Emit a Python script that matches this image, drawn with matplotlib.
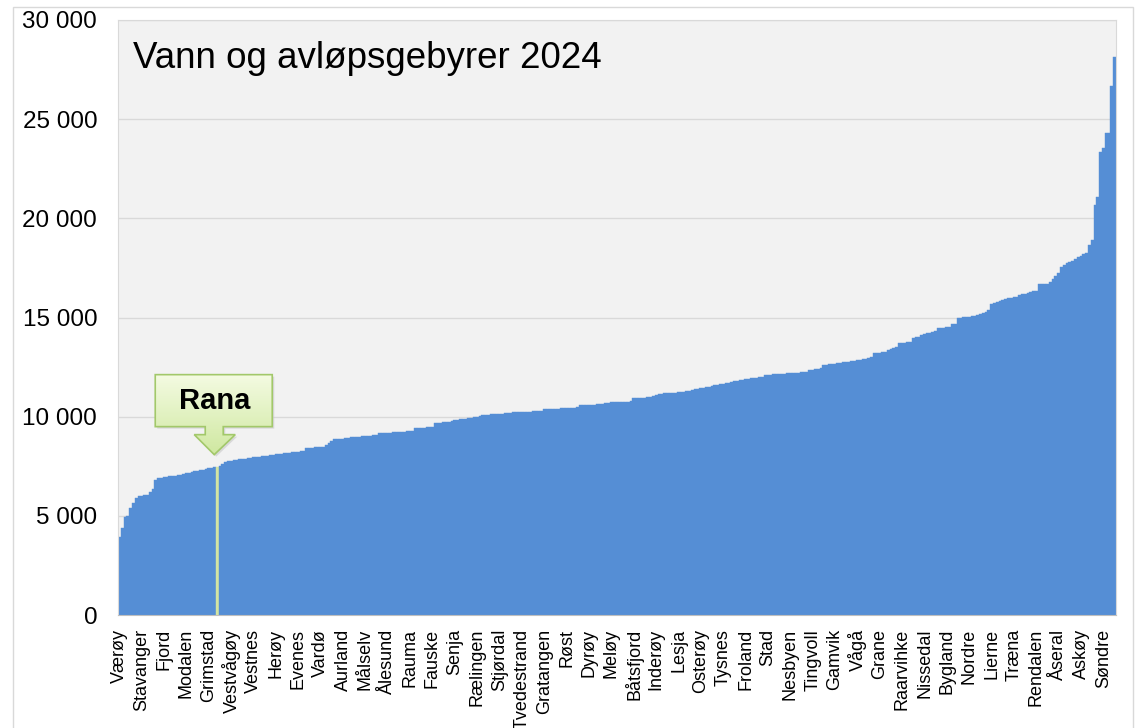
import numpy as np
import matplotlib
matplotlib.use("Agg")
import matplotlib.pyplot as plt
from matplotlib.patches import Polygon, Rectangle
from matplotlib.colors import LinearSegmentedColormap

plt.rcParams['font.family'] = ['Liberation Sans', 'DejaVu Sans']

title = "Vann og avløpsgebyrer 2024"
highlight_name = "Rana"
highlight_index = 35

tick_labels = ["Værøy", "Stavanger", "Fjord", "Modalen", "Grimstad", "Vestvågøy",
               "Vestnes", "Herøy", "Evenes", "Vardø", "Aurland", "Målselv", "Ålesund",
               "Rauma", "Fauske", "Senja", "Rælingen", "Stjørdal", "Tvedestrand",
               "Gratangen", "Røst", "Dyrøy", "Meløy", "Båtsfjord", "Inderøy", "Lesja",
               "Osterøy", "Tysnes", "Froland", "Stad", "Nesbyen", "Tingvoll", "Gamvik",
               "Vågå", "Grane", "Raarvihke", "Nissedal", "Bygland", "Nordre", "Lierne",
               "Træna", "Rendalen", "Åseral", "Askøy", "Søndre"]
tick_step = 8

fees = [
    3950, 4370, 4960, 5000, 5380, 5630, 5880, 6000, 6010, 6030, 6060, 6220, 6350, 6810, 6900,
    6930, 6950, 6970, 6990, 7010, 7030, 7050,
    7080, 7110, 7150, 7180, 7210, 7240, 7270, 7300, 7330, 7360, 7390, 7420, 7450, 7480,
    7520, 7600, 7700, 7740, 7770, 7800, 7820, 7850, 7870, 7890, 7910, 7930, 7950, 7960,
    7980, 8000, 8020, 8040, 8060, 8080, 8100, 8120,
    8130, 8150, 8170, 8180, 8200, 8220, 8240, 8250, 8270,
    8400, 8420, 8430, 8450, 8460, 8480, 8490,
    8570, 8680, 8790,
    8860, 8870, 8880, 8890, 8900, 8920,
    8960, 8970, 8990, 9000, 9010, 9030, 9040, 9050, 9070, 9080,
    9160, 9170, 9180, 9190, 9200, 9210, 9220, 9230, 9240, 9250, 9260, 9280, 9290,
    9410, 9420, 9440, 9450, 9470, 9480, 9500,
    9660, 9680, 9700, 9720, 9740, 9750,
    9800, 9820, 9840, 9860, 9880, 9900, 9920, 9940, 9960, 9990, 10030,
    10080, 10090, 10100, 10110, 10120, 10130, 10140, 10150, 10160, 10165, 10170,
    10220, 10225, 10230, 10240, 10245, 10250, 10260, 10265, 10270, 10280, 10290,
    10370, 10380, 10390, 10395, 10400, 10410, 10420, 10425, 10430, 10440, 10450, 10460, 10470,
    10570, 10580, 10590, 10600, 10605, 10610, 10620, 10630, 10640,
    10700, 10710, 10715, 10720, 10730, 10740, 10745, 10750, 10760, 10770,
    10920, 10930, 10940, 10950, 10960, 10970, 10980,
    11040, 11090, 11140,
    11150, 11170, 11180, 11190, 11200, 11215, 11230, 11245, 11260,
    11290, 11310, 11340, 11370, 11400, 11430, 11460, 11490, 11510,
    11560, 11590, 11610, 11640, 11660, 11690, 11720, 11750, 11780, 11800,
    11850, 11870, 11890, 11910, 11930, 11950, 11970, 11990, 12010,
    12100, 12110, 12120, 12130, 12140, 12150, 12160, 12170, 12180, 12190, 12200, 12210,
    12220, 12240, 12250, 12270,
    12350, 12370, 12390, 12420, 12440,
    12600, 12620, 12640, 12660, 12680, 12700, 12720,
    12740, 12755, 12770,
    12810, 12830, 12850, 12870, 12890, 12910, 12940,
    13020,
    13220, 13230, 13230, 13240, 13250,
    13360, 13420, 13470, 13500,
    13700, 13710, 13720, 13740, 13750,
    13950, 14000, 14030,
    14120, 14160, 14200, 14240, 14280, 14320,
    14450, 14470, 14490, 14510, 14540,
    14670, 14680,
    14990, 15000, 15020, 15030, 15050, 15060, 15080,
    15130, 15180, 15240, 15300, 15380,
    15680, 15720, 15770, 15820, 15870, 15920,
    15970, 16000, 16020, 16050,
    16130, 16160, 16200, 16240, 16280, 16320, 16350,
    16690, 16700, 16700, 16710,
    16810, 16950, 17100, 17230,
    17560, 17650, 17730, 17800, 17870, 17930,
    18030, 18110, 18190, 18270,
    18650, 18910, 20670, 21090, 23360, 23530, 24290, 24300, 26670, 28150,
]

W, H = 1145, 728
fig = plt.figure(figsize=(W / 100, H / 100), dpi=100)
fig.patch.set_facecolor('white')
ax = fig.add_axes([118 / W, (H - 615) / H, (1116 - 118) / W, (615 - 20) / H])
ax.set_facecolor('#f2f2f2')

n = len(fees)
x = np.arange(n)
colors = ['#558ed5'] * n
colors[highlight_index] = '#d3e4a2'
ax.bar(x, fees, width=1.0, color=colors, linewidth=0.3, edgecolor=colors, zorder=2)

ax.set_xlim(-0.5, n - 0.5)
ax.set_ylim(0, 30000)
yt = np.arange(0, 30001, 5000)
ax.set_yticks(yt)
ax.set_yticklabels([f"{v:,}".replace(",", " ") for v in yt], fontsize=17.5)
ax.yaxis.grid(True, color='#d9d9d9', linewidth=1.0, zorder=0)
ax.set_axisbelow(True)
tpos = np.arange(0, len(tick_labels) * tick_step, tick_step)
ax.set_xticks(tpos)
ax.set_xticklabels(tick_labels, rotation=90, fontsize=13, va='top', ha='center')
ax.tick_params(axis='both', length=0)
ax.tick_params(axis='y', pad=15)
ax.tick_params(axis='x', pad=10)
for s in ['top', 'right', 'left']:
    ax.spines[s].set_color('#d9d9d9')
ax.spines['bottom'].set_color('#bfbfbf')

ax.text(0.015, (615 - 68) / 595, title, transform=ax.transAxes, fontsize=26.5,
        ha='left', va='baseline', color='black')

# overlay in pixel coordinates for the callout and frame
ov = fig.add_axes([0, 0, 1, 1], facecolor='none')
ov.set_xlim(0, W)
ov.set_ylim(0, H)
ov.axis('off')

ov.add_patch(Rectangle((13, -2), 1120, H - 7 + 2, fill=False, edgecolor='#d9d9d9', linewidth=1))

tip = ax.transData.transform((highlight_index, fees[highlight_index]))
tx, ty = tip[0] - 3, tip[1] + 12
rel = [(0, 0), (-20, 20), (-9, 20), (-9, 28), (-59, 28), (-59, 80), (58, 80),
       (58, 28), (9, 28), (9, 20), (21, 20)]
verts = [(tx + dx, ty + dy) for dx, dy in rel]
shadow = Polygon([(vx + 2, vy - 2) for vx, vy in verts], closed=True,
                 facecolor='#c8c8c8', edgecolor='none', alpha=0.6, zorder=3)
ov.add_patch(shadow)
poly = Polygon(verts, closed=True, facecolor='none', edgecolor='#a2c86a', linewidth=1.2, zorder=5)
grad = np.linspace(0, 1, 100).reshape(-1, 1)
cmap = LinearSegmentedColormap.from_list('g', ['#cfe8a0', '#f4fbe2'])
im = ov.imshow(grad, extent=(tx - 60, tx + 60, ty, ty + 81), origin='lower',
               cmap=cmap, aspect='auto', zorder=4)
clip = Polygon(verts, closed=True, transform=ov.transData)
im.set_clip_path(clip)
ov.add_patch(poly)
ov.text(tx, ty + 54, highlight_name, fontsize=21, fontweight='bold',
        ha='center', va='center', zorder=6)

fig.savefig('out.png', dpi=100)
